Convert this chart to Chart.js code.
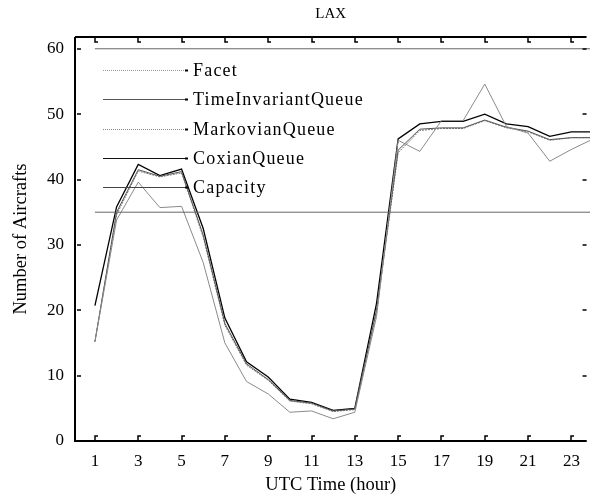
<!DOCTYPE html>
<html>
<head>
<meta charset="utf-8">
<script src="https://cdn.jsdelivr.net/npm/chart.js@4/dist/chart.umd.min.js"></script>
<style>
  html, body { margin: 0; padding: 0; background: #fff; }
  canvas { display: block; }
</style>
</head>
<body>
<canvas id="c" width="590" height="503"></canvas>
<script>
// hours 1..24 (UTC)
const hours = [1,2,3,4,5,6,7,8,9,10,11,12,13,14,15,16,17,18,19,20,21,22,23,24];

const facet =        [15.2,33.8,39.6,35.7,35.9,27.3,15.0,9.1,7.2,4.4,4.6,3.4,4.4,19.0,46.0,44.3,49.0,49.0,54.6,48.1,47.1,42.8,44.6,46.2];
const timeInvariant = [15.2,35.0,41.5,40.5,41.2,31.5,18.0,11.8,9.4,6.2,5.8,4.6,4.9,20.0,44.5,47.7,47.9,47.9,49.1,48.0,47.4,46.1,46.4,46.4];
const markovian =    [15.2,34.6,41.3,40.4,41.0,31.2,17.7,11.6,9.3,6.1,5.7,4.5,4.8,19.6,44.1,47.5,47.8,47.8,49.0,47.9,47.3,46.0,46.4,46.4];
const coxian =       [20.7,35.8,42.3,40.6,41.6,32.5,18.8,12.1,9.8,6.4,5.9,4.7,5.0,21.0,46.2,48.5,48.9,48.9,50.0,48.5,48.1,46.6,47.3,47.3];
const capacity = 35;
const upperLine = 60;

const xTicks = [1,3,5,7,9,11,13,15,17,19,21,23];
const yTicks = [0,10,20,30,40,50,60];

const pts = arr => arr.map((v, i) => ({ x: hours[i], y: v }));
const flat = v => [{ x: hours[0], y: v }, { x: hours[hours.length - 1], y: v }];

const serif = '"Liberation Serif", "DejaVu Serif", serif';

const legendItems = [
  { label: 'Facet', color: '#9a9a9a', dash: [1, 1] },
  { label: 'TimeInvariantQueue', color: '#555', dash: [] },
  { label: 'MarkovianQueue', color: '#888', dash: [1, 1] },
  { label: 'CoxianQueue', color: '#111', dash: [] },
  { label: 'Capacity', color: '#444', dash: [] }
];

const framePlugin = {
  id: 'frame',
  afterDraw(chart) {
    const { ctx, chartArea: a, scales: { x, y } } = chart;
    ctx.save();
    ctx.strokeStyle = '#000';
    ctx.lineWidth = 2;
    ctx.beginPath();
    ctx.moveTo(a.left, a.top); ctx.lineTo(a.right, a.top);
    ctx.moveTo(a.left, a.top); ctx.lineTo(a.left, a.bottom);
    ctx.moveTo(a.left - 1, a.bottom); ctx.lineTo(a.right, a.bottom);
    ctx.stroke();
    // inward tick marks
    ctx.lineWidth = 1.5;
    xTicks.forEach(t => {
      const px = Math.round(x.getPixelForValue(t));
      ctx.beginPath();
      ctx.moveTo(px, a.bottom); ctx.lineTo(px, a.bottom - 5); ctx.lineTo(px + 3, a.bottom - 5);
      ctx.moveTo(px, a.top); ctx.lineTo(px, a.top + 5); ctx.lineTo(px + 3, a.top + 5);
      ctx.stroke();
    });
    yTicks.forEach(t => {
      const py = Math.round(y.getPixelForValue(t));
      ctx.beginPath();
      ctx.moveTo(a.left + 2, py); ctx.lineTo(a.left + 6, py);
      ctx.moveTo(a.right - 4, py); ctx.lineTo(a.right, py);
      ctx.stroke();
    });
    // legend inside the plot
    ctx.font = '18px ' + serif;
    ctx.letterSpacing = '1.2px';
    ctx.textBaseline = 'middle';
    ctx.fillStyle = '#000';
    const ys = [70, 99, 129, 158, 187];
    legendItems.forEach((it, i) => {
      ctx.strokeStyle = it.color;
      ctx.lineWidth = 1;
      ctx.setLineDash(it.dash);
      ctx.beginPath();
      ctx.moveTo(103, ys[i] + 0.5); ctx.lineTo(186, ys[i] + 0.5);
      ctx.stroke();
      ctx.setLineDash([]);
      ctx.fillRect(185, ys[i] - 0.5, 3, 2);
      ctx.fillText(it.label, 193, ys[i] + 1.5);
    });
    ctx.restore();
  }
};

new Chart(document.getElementById('c'), {
  type: 'line',
  data: {
    datasets: [
      { label: 'Upper', data: flat(upperLine), borderColor: '#666', borderWidth: 1 },
      { label: 'Capacity', data: flat(capacity), borderColor: '#666', borderWidth: 1 },
      { label: 'Facet', data: pts(facet), borderColor: '#8a8a8a', borderWidth: 1 },
      { label: 'TimeInvariantQueue', data: pts(timeInvariant), borderColor: '#555', borderWidth: 1 },
      { label: 'MarkovianQueue', data: pts(markovian), borderColor: '#777', borderWidth: 1, borderDash: [2, 1] },
      { label: 'CoxianQueue', data: pts(coxian), borderColor: '#000', borderWidth: 1.3 }
    ]
  },
  options: {
    responsive: false,
    animation: false,
    clip: false,
    layout: { padding: 0 },
    elements: { point: { radius: 0 }, line: { tension: 0 } },
    plugins: {
      legend: { display: false },
      tooltip: { enabled: false },
      title: {
        display: true,
        fullSize: false,
        text: 'LAX',
        color: '#000',
        font: { family: serif, size: 15, weight: 'normal', lineHeight: 1.2 },
        padding: { top: 5, bottom: 14 }
      }
    },
    scales: {
      x: {
        type: 'linear',
        min: 0.08,
        max: 23.7,
        grid: { display: false, drawTicks: false },
        border: { display: false },
        afterBuildTicks: s => { s.ticks = xTicks.map(v => ({ value: v })); },
        afterFit: s => { s.height = 62; },
        ticks: { color: '#000', font: { family: serif, size: 17 }, padding: 10, maxRotation: 0 },
        title: {
          display: true, text: 'UTC Time (hour)', color: '#000',
          font: { family: serif, size: 18.5, lineHeight: 1.2 },
          padding: { top: 0, bottom: 6.9 }
        }
      },
      y: {
        min: 0,
        max: 61.8,
        grid: { display: false, drawTicks: false },
        border: { display: false },
        afterBuildTicks: s => { s.ticks = yTicks.map(v => ({ value: v })); },
        afterFit: s => { s.width = 75; },
        ticks: { color: '#000', font: { family: serif, size: 17 }, padding: 11 },
        title: {
          display: true, text: 'Number of Aircrafts', color: '#000',
          font: { family: serif, size: 18.5, lineHeight: 1.2 },
          padding: { top: 9.9, bottom: 0 }
        }
      }
    }
  },
  plugins: [framePlugin]
});
</script>
</body>
</html>
